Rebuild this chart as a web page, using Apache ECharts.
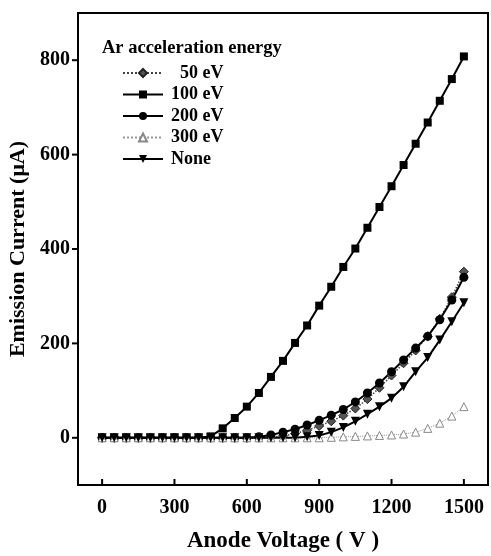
<!DOCTYPE html>
<html><head><meta charset="utf-8">
<script src="https://cdn.jsdelivr.net/npm/echarts@6/dist/echarts.min.js"></script>
<style>html,body{margin:0;padding:0;background:#fff}#c{width:491px;height:556px}</style>
</head><body><div id="c"></div>
<script>
var voltages = [0,50,100,150,200,250,300,350,400,450,500,550,600,650,700,750,800,850,900,950,1000,1050,1100,1150,1200,1250,1300,1350,1400,1450,1500];
var ev50  = [0,0,0,0,0,0,0,0,0,0,0,0,0,0,1,4,9,16,25,35,47,62,82,106,132,158,185,215,252,298,352];
var ev100 = [0,0,0,0,0,0,0,0,0,3,20,42,66,95,129,163,201,238,280,320,362,401,445,489,533,578,623,668,714,760,808];
var ev200 = [0,0,0,0,0,0,0,0,0,0,0,0,0,2,6,12,18,27,37,48,60,76,95,116,140,165,190,215,250,292,340];
var ev300 = [0,0,0,0,0,0,0,0,0,0,0,0,0,0,0,0,0,0,0,1,2,3,4,5,6,8,12,20,31,46,66];
var none  = [0,0,0,0,0,0,0,0,0,0,0,0,0,0,0,0,0,2,5,12,22,35,50,66,84,108,140,170,207,246,286];
var xTicks = [0,300,600,900,1200,1500];
var yTicks = [0,200,400,600,800];
var X_MIN = -100, X_MAX = 1600, Y_MIN = -100, Y_MAX = 900;

function pairs(arr){ return voltages.map(function(v,i){ return [v, arr[i]]; }); }
function plain(v){ return String(v); }
var font = 'Liberation Serif';

function tickSeries(ticks, isX){
  return {
    type: 'custom', silent: true, clip: false, z: 10,
    data: ticks.map(function(t){ return isX ? [t, Y_MIN] : [X_MIN, t]; }),
    encode: { x: 0, y: 1 },
    renderItem: function(params, api){
      var p = api.coord([api.value(0), api.value(1)]);
      return { type: 'line',
        shape: isX ? { x1: p[0], y1: p[1], x2: p[0], y2: p[1] - 6 }
                   : { x1: p[0], y1: p[1], x2: p[0] - 6, y2: p[1] },
        style: { stroke: '#000', lineWidth: 2 } };
    }
  };
}

var chart = echarts.init(document.getElementById('c'));
chart.setOption({
  animation: false,
  backgroundColor: '#fff',
  grid: { left: 78, top: 13, right: 3, bottom: 71, show: true, borderColor: '#000', borderWidth: 2,
    backgroundColor: 'transparent', containLabel: false, outerBoundsMode: 'none' },
  title: { text: 'Ar acceleration energy', left: 102, top: 39, padding: 0,
    textStyle: { fontFamily: font, fontWeight: 'bold', fontSize: 18.5, color: '#000' } },
  legend: {
    orient: 'vertical', left: 122, top: 64, padding: 0, itemWidth: 40, itemHeight: 10, itemGap: 3.5,
    textStyle: { fontFamily: font, fontWeight: 'bold', fontSize: 18, color: '#000', padding: [0,0,0,3] },
    formatter: function(n){ return n === '50 eV' ? '\u2002' + n : n; },
    data: ['50 eV','100 eV','200 eV','300 eV','None']
  },
  xAxis: {
    type: 'value', min: X_MIN, max: X_MAX,
    name: 'Anode Voltage ( V )', nameLocation: 'middle', nameGap: 45,
    nameTextStyle: { fontFamily: font, fontWeight: 'bold', fontSize: 23, color: '#000' },
    axisLine: { show: true, onZero: false, lineStyle: { color: '#000', width: 2 } },
    axisTick: { show: false },
    axisLabel: { fontFamily: font, fontWeight: 'bold', fontSize: 20, color: '#000', margin: 13, customValues: xTicks, formatter: plain },
    splitLine: { show: false }
  },
  yAxis: {
    type: 'value', min: Y_MIN, max: Y_MAX,
    name: 'Emission Current (\u03bcA)', nameLocation: 'middle', nameGap: 49,
    nameTextStyle: { fontFamily: font, fontWeight: 'bold', fontSize: 22, color: '#000' },
    axisLine: { show: true, onZero: false, lineStyle: { color: '#000', width: 2 } },
    axisTick: { show: false },
    axisLabel: { fontFamily: font, fontWeight: 'bold', fontSize: 20, color: '#000', margin: 8, customValues: yTicks, formatter: plain },
    splitLine: { show: false }
  },
  series: [
    { name: '50 eV', type: 'line', data: pairs(ev50), symbol: 'diamond', symbolSize: 9,
      itemStyle: { color: '#555', borderColor: '#222', borderWidth: 1 },
      lineStyle: { color: '#444', width: 1.5, type: 'dotted' } },
    { name: '100 eV', type: 'line', data: pairs(ev100), symbol: 'rect', symbolSize: 8,
      itemStyle: { color: '#000' }, lineStyle: { color: '#000', width: 2 } },
    { name: '200 eV', type: 'line', data: pairs(ev200), symbol: 'circle', symbolSize: 9,
      itemStyle: { color: '#000' }, lineStyle: { color: '#000', width: 2 } },
    { name: '300 eV', type: 'line', data: pairs(ev300), symbol: 'triangle', symbolSize: 8,
      itemStyle: { color: '#fff', borderColor: '#888', borderWidth: 1 },
      lineStyle: { color: '#999', width: 1, type: 'dotted' } },
    { name: 'None', type: 'line', data: pairs(none), symbol: 'triangle', symbolRotate: 180, symbolSize: 9,
      itemStyle: { color: '#000' }, lineStyle: { color: '#000', width: 2 } },
    tickSeries(xTicks, true),
    tickSeries(yTicks, false)
  ]
});
</script></body></html>
